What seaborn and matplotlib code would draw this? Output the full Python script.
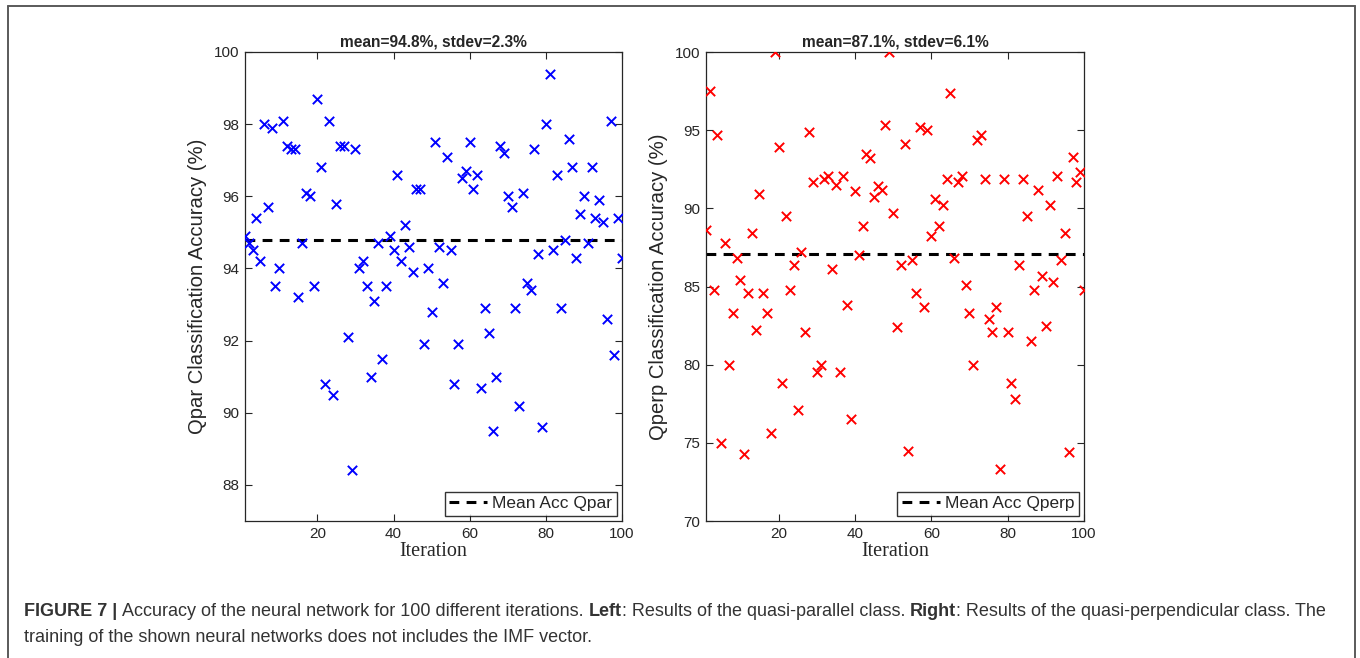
import matplotlib
matplotlib.use("Agg")
import matplotlib.pyplot as plt
import seaborn as sns
import pandas as pd
from matplotlib.lines import Line2D

# accuracy per iteration
iterations = list(range(1, 101))
qpar_acc = [
    94.9, 94.7, 94.5, 95.4, 94.2, 98.0, 95.7, 97.9, 93.5, 94.0,
    98.1, 97.4, 97.3, 97.3, 93.2, 94.7, 96.1, 96.0, 93.5, 98.7,
    96.8, 90.8, 98.1, 90.5, 95.8, 97.4, 97.4, 92.1, 88.4, 97.3,
    94.0, 94.2, 93.5, 91.0, 93.1, 94.7, 91.5, 93.5, 94.9, 94.5,
    96.6, 94.2, 95.2, 94.6, 93.9, 96.2, 96.2, 91.9, 94.0, 92.8,
    97.5, 94.6, 93.6, 97.1, 94.5, 90.8, 91.9, 96.5, 96.7, 97.5,
    96.2, 96.6, 90.7, 92.9, 92.2, 89.5, 91.0, 97.4, 97.2, 96.0,
    95.7, 92.9, 90.2, 96.1, 93.6, 93.4, 97.3, 94.4, 89.6, 98.0,
    99.4, 94.5, 96.6, 92.9, 94.8, 97.6, 96.8, 94.3, 95.5, 96.0,
    94.7, 96.8, 95.4, 95.9, 95.3, 92.6, 98.1, 91.6, 95.4, 94.3,
]
qperp_acc = [
    88.6, 97.5, 84.8, 94.7, 75.0, 87.8, 80.0, 83.3, 86.8, 85.4,
    74.3, 84.6, 88.4, 82.2, 90.9, 84.6, 83.3, 75.6, 100.0, 93.9,
    78.8, 89.5, 84.8, 86.4, 77.1, 87.2, 82.1, 94.9, 91.7, 79.5,
    80.0, 91.9, 92.1, 86.1, 91.5, 79.5, 92.1, 83.8, 76.5, 91.1,
    87.0, 88.9, 93.5, 93.2, 90.7, 91.4, 91.2, 95.3, 100.0, 89.7,
    82.4, 86.4, 94.1, 74.5, 86.7, 84.6, 95.2, 83.7, 95.0, 88.2,
    90.6, 88.9, 90.2, 91.9, 97.4, 86.8, 91.7, 92.1, 85.1, 83.3,
    80.0, 94.4, 94.7, 91.9, 82.9, 82.1, 83.7, 73.3, 91.9, 82.1,
    78.8, 77.8, 86.4, 91.9, 89.5, 81.5, 84.8, 91.2, 85.7, 82.5,
    90.2, 85.3, 92.1, 86.7, 88.4, 74.4, 93.3, 91.7, 92.3, 84.8,
]
qpar_mean, qpar_std = 94.8, 2.3
qperp_mean, qperp_std = 87.1, 6.1

sns.set_style("white")
plt.rcParams["font.family"] = ["Liberation Sans", "DejaVu Sans"]
plt.rcParams.update({
    "xtick.bottom": True, "xtick.top": True, "ytick.left": True, "ytick.right": True,
    "xtick.direction": "in", "ytick.direction": "in",
    "xtick.major.size": 5, "ytick.major.size": 5,
    "xtick.major.width": 0.8, "ytick.major.width": 0.8,
})

fig = plt.figure(figsize=(13.6, 6.58), dpi=100)

W, H = 1360, 658
ax_l = fig.add_axes([245 / W, 1 - 521 / H, 377 / W, 469 / H])
ax_r = fig.add_axes([706 / W, 1 - 521 / H, 378 / W, 469 / H])

panels = [
    (ax_l, qpar_acc, qpar_mean, qpar_std, "blue", "Qpar", (87, 100), list(range(88, 101, 2))),
    (ax_r, qperp_acc, qperp_mean, qperp_std, "red", "Qperp", (70, 100), list(range(70, 101, 5))),
]

for ax, acc, mu, sd, col, name, ylim, yticks in panels:
    df = pd.DataFrame({"Iteration": iterations, "acc": acc})
    sns.scatterplot(data=df, x="Iteration", y="acc", ax=ax, marker="x",
                    color=col, s=45, linewidth=1.4, legend=False, zorder=3)
    ax.axhline(mu, color="black", linestyle=(0, (3.2, 2.4)), linewidth=2.2,
               label=f"Mean Acc {name}", zorder=2)
    ax.set_xlim(1, 100)
    ax.set_ylim(*ylim)
    ax.set_xticks([20, 40, 60, 80, 100])
    ax.set_yticks(yticks)
    ax.tick_params(direction="in", length=5, width=0.8, left=True, bottom=True,
                   top=True, right=True, labelsize=11, colors="#262626", pad=4)
    for sp in ax.spines.values():
        sp.set_color("#262626")
        sp.set_linewidth(0.9)
    ax.set_title(f"mean={mu}%, stdev={sd}%", fontsize=11.2, fontweight="bold", pad=4)
    ax.set_xlabel("Iteration", fontsize=14.5, family=["Liberation Serif", "DejaVu Serif"],
                  labelpad=1)
    ax.set_ylabel(f"{name} Classification Accuracy (%)", fontsize=14.6, labelpad=5)
    leg = ax.legend(loc="lower right", fontsize=12.5, frameon=True, fancybox=False,
                    handlelength=2.2, handletextpad=0.3, borderpad=0.25,
                    borderaxespad=0.3)
    leg.get_frame().set_edgecolor("black")
    leg.get_frame().set_linewidth(1.0)

# frame around the figure
for xs, ys in [((8 / W, 8 / W), (1.0 - 6 / H, -0.1)),
               ((8 / W, 1355 / W), (1 - 6 / H, 1 - 6 / H)),
               ((1355 / W, 1355 / W), (1 - 6 / H, -0.1))]:
    fig.add_artist(Line2D(xs, ys, transform=fig.transFigure, color="#5a5a5a", lw=1.4))

# caption with bold runs
cap_lines = [
    [("FIGURE 7 | ", "bold"), ("Accuracy of the neural network for 100 different iterations. ", "normal"),
     ("Left", "bold"), (": Results of the quasi-parallel class. ", "normal"),
     ("Right", "bold"), (": Results of the quasi-perpendicular class. The", "normal")],
    [("training of the shown neural networks does not includes the IMF vector.", "normal")],
]
renderer = fig.canvas.get_renderer()
y_pos = [1 - 611 / H, 1 - 637 / H]
for line, yy in zip(cap_lines, y_pos):
    x = 24 / W
    for txt, wt in line:
        t = fig.text(x, yy, txt, fontsize=13.0, fontweight=wt, color="#333333",
                     va="center", ha="left")
        bb = t.get_window_extent(renderer=renderer)
        x += bb.width / W

fig.savefig("out.png", dpi=100)
